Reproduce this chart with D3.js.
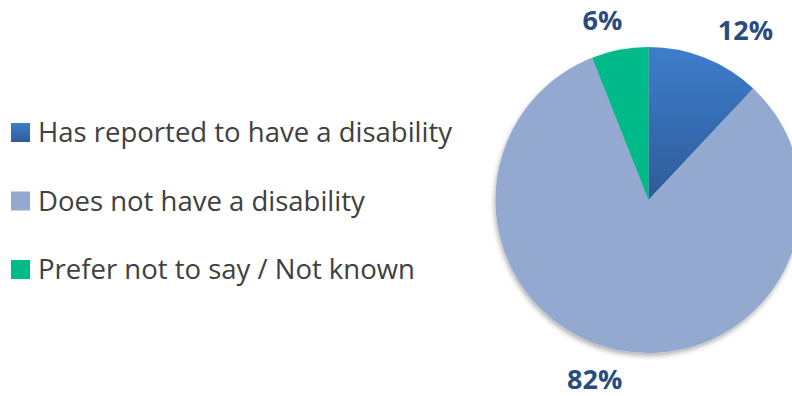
<!DOCTYPE html>
<html>
<head>
<meta charset="utf-8">
<title>Disability pie</title>
<style>
  body { margin: 0; background: #fff; }
  svg { display: block; }
</style>
</head>
<body>
<svg width="792" height="396"></svg>
<script src="https://d3js.org/d3.v7.min.js"></script>
<script>
  const categories = ["Has reported to have a disability", "Does not have a disability", "Prefer not to say / Not known"];
  const values = [12, 82, 6];
  const labels = ["12%", "82%", "6%"];
  const colors = ["url(#blueGrad)", "#94a9cf", "#00ba8a"];
  const swatch = ["url(#blueSwatch)", "#94a9cf", "#00ba8a"];

  const svg = d3.select("svg");
  const cx = 648.5, cy = 200, r = 153;
  const font = "'Open Sans', Lato, sans-serif";

  const defs = svg.append("defs");
  function grad(id) {
    const g = defs.append("linearGradient").attr("id", id)
      .attr("x1", 0).attr("y1", 0).attr("x2", 0).attr("y2", 1);
    g.append("stop").attr("offset", "0%").attr("stop-color", "#3d7dcc");
    g.append("stop").attr("offset", "100%").attr("stop-color", "#2e5c99");
  }
  grad("blueGrad");
  grad("blueSwatch");
  const f = defs.append("filter").attr("id", "shadow")
    .attr("x", "-10%").attr("y", "-10%").attr("width", "130%").attr("height", "130%");
  f.append("feDropShadow").attr("dx", -1).attr("dy", 3).attr("stdDeviation", 2.5)
    .attr("flood-color", "#000").attr("flood-opacity", 0.3);

  const pie = d3.pie().sort(null).value(d => d);
  const arcs = pie(values);
  const arc = d3.arc().innerRadius(0).outerRadius(r);

  const g = svg.append("g").attr("transform", `translate(${cx},${cy})`);
  g.append("g").attr("filter", "url(#shadow)")
    .selectAll("path")
    .data(arcs)
    .enter()
    .append("path")
    .attr("d", arc)
    .attr("fill", (d, i) => colors[i]);

  // labels sit just outside the slice, anchored by side
  const labelR = 172;
  g.selectAll(".lbl")
    .data(arcs)
    .enter()
    .append("text")
    .attr("class", "lbl")
    .each(function (d, i) {
      const a = (d.startAngle + d.endAngle) / 2;
      const x = Math.sin(a) * labelR;
      const y = -Math.cos(a) * labelR;
      d3.select(this)
        .attr("x", x + 6)
        .attr("y", y - Math.cos(a) * 11)
        .attr("dy", "0.36em")
        .attr("text-anchor", x > 0 ? "start" : "end");
    })
    .attr("font-family", font)
    .attr("font-weight", "bold")
    .attr("font-size", "27px")
    .attr("fill", "#284c80")
    .text((d, i) => labels[i]);

  const legend = svg.append("g").attr("transform", "translate(11,123)");
  const item = legend.selectAll(".item")
    .data(categories)
    .enter()
    .append("g")
    .attr("class", "item")
    .attr("transform", (d, i) => `translate(0,${i * 68.5})`);
  item.append("rect")
    .attr("width", 19).attr("height", 19)
    .attr("fill", (d, i) => swatch[i]);
  item.append("text")
    .attr("x", 27)
    .attr("y", 19)
    .attr("font-family", font)
    .attr("font-size", "27.5px")
    .attr("fill", "#404040")
    .text(d => d);
</script>
</body>
</html>
